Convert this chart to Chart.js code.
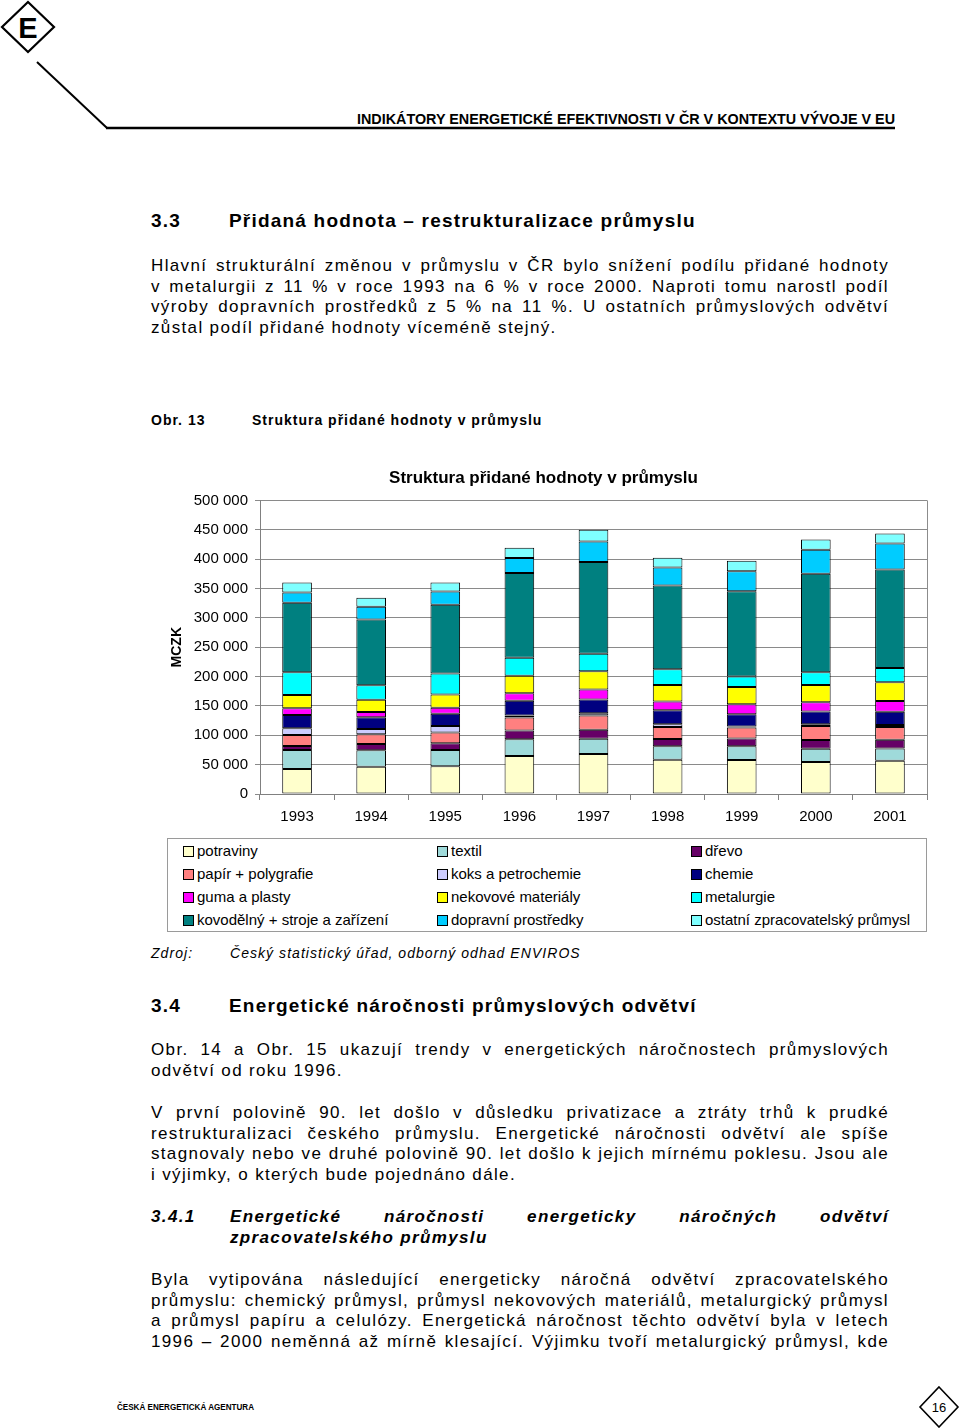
<!DOCTYPE html>
<html>
<head>
<meta charset="utf-8">
<script src="https://cdn.jsdelivr.net/npm/chart.js@4.4.1/dist/chart.umd.min.js"></script>
<style>
  html, body { margin: 0; padding: 0; background: #fff; }
  body { width: 960px; height: 1428px; position: relative; overflow: hidden; font-family: "Liberation Sans", Arial, sans-serif; color: #000; }
  .abs { position: absolute; }
  .ln { position: absolute; left: 151px; width: 738px; height: 21px; line-height: 21px; font-size: 17px; letter-spacing: 0.4px; text-align: justify; text-align-last: justify; }
  .ln.last { text-align-last: left; }
  .h2 { position: absolute; font-size: 19px; font-weight: bold; letter-spacing: 1.2px; line-height: 24px; height: 24px; white-space: nowrap; }
  .cap { position: absolute; font-size: 14px; font-weight: bold; letter-spacing: 1px; line-height: 18px; white-space: nowrap; }
  .src { position: absolute; font-size: 14px; font-style: italic; letter-spacing: 1.05px; line-height: 18px; white-space: nowrap; }
  #chartBox { position: absolute; left: 160px; top: 456px; width: 775px; height: 378px; }
  #legend { position: absolute; left: 167px; top: 838px; width: 758px; height: 92px; border: 1px solid #9a9a9a; }
  .li { position: absolute; font-size: 15px; line-height: 18px; white-space: nowrap; }
  .sw { position: absolute; width: 9px; height: 9px; border: 1px solid #000; }
</style>
</head>
<body>

<svg class="abs" style="left:0;top:0" width="960" height="140">
  <polygon points="28,2 54,27 28,52 2,27" fill="#fff" stroke="#000" stroke-width="2.2"/>
  <text x="28" y="38" text-anchor="middle" font-family="Liberation Sans" font-weight="bold" font-size="29">E</text>
  <line x1="37" y1="62" x2="107" y2="128" stroke="#000" stroke-width="2"/>
  <line x1="106" y1="128" x2="895" y2="128" stroke="#000" stroke-width="2.5"/>
  <text x="357" y="124" font-family="Liberation Sans" font-weight="bold" font-size="14" textLength="538" lengthAdjust="spacingAndGlyphs">INDIKÁTORY ENERGETICKÉ EFEKTIVNOSTI V ČR V KONTEXTU VÝVOJE V EU</text>
</svg>

<div class="h2" style="left:151px;top:209px">3.3</div>
<div class="h2" style="left:229px;top:209px">Přidaná hodnota – restrukturalizace průmyslu</div>

<div class="ln" style="top:255px">Hlavní strukturální změnou v průmyslu v ČR bylo snížení podílu přidané hodnoty</div>
<div class="ln" style="top:276px">v metalurgii z 11 % v roce 1993 na 6 % v roce 2000. Naproti tomu narostl podíl</div>
<div class="ln" style="top:296px">výroby dopravních prostředků z 5 % na 11 %. U ostatních průmyslových odvětví</div>
<div class="ln last" style="top:317px">zůstal podíl přidané hodnoty víceméně stejný.</div>

<div class="cap" style="left:151px;top:411px">Obr. 13</div>
<div class="cap" style="left:252px;top:411px">Struktura přidané hodnoty v průmyslu</div>

<div id="chartBox"><canvas id="myChart"></canvas></div>
<div id="legend"></div>

<div class="src" style="left:151px;top:944px">Zdroj:</div>
<div class="src" style="left:230px;top:944px">Český statistický úřad, odborný odhad ENVIROS</div>

<div class="h2" style="left:151px;top:994px">3.4</div>
<div class="h2" style="left:229px;top:994px">Energetické náročnosti průmyslových odvětví</div>

<div class="ln" style="top:1039px">Obr. 14 a Obr. 15 ukazují trendy v energetických náročnostech průmyslových</div>
<div class="ln last" style="top:1060px">odvětví od roku 1996.</div>

<div class="ln" style="top:1102px">V první polovině 90. let došlo v důsledku privatizace a ztráty trhů k prudké</div>
<div class="ln" style="top:1123px">restrukturalizaci českého průmyslu. Energetické náročnosti odvětví ale spíše</div>
<div class="ln" style="top:1143px">stagnovaly nebo ve druhé polovině 90. let došlo k jejich mírnému poklesu. Jsou ale</div>
<div class="ln last" style="top:1164px">i výjimky, o kterých bude pojednáno dále.</div>

<div class="ln last" style="top:1206px;left:151px;width:70px;font-weight:bold;font-style:italic">3.4.1</div>
<div class="ln" style="top:1206px;left:230px;width:659px;font-weight:bold;font-style:italic">Energetické náročnosti energeticky náročných odvětví</div>
<div class="ln last" style="top:1227px;left:230px;width:659px;font-weight:bold;font-style:italic">zpracovatelského průmyslu</div>

<div class="ln" style="top:1269px">Byla vytipována následující energeticky náročná odvětví zpracovatelského</div>
<div class="ln" style="top:1290px">průmyslu: chemický průmysl, průmysl nekovových materiálů, metalurgický průmysl</div>
<div class="ln" style="top:1310px">a průmysl papíru a celulózy. Energetická náročnost těchto odvětví byla v letech</div>
<div class="ln" style="top:1331px">1996 – 2000 neměnná až mírně klesající. Výjimku tvoří metalurgický průmysl, kde</div>

<svg class="abs" style="left:0;top:1380px" width="960" height="48">
  <text x="117" y="30" font-family="Liberation Sans" font-weight="bold" font-size="9" textLength="137" lengthAdjust="spacingAndGlyphs">ČESKÁ ENERGETICKÁ AGENTURA</text>
  <polygon points="939,7 958,27 939,47 920,27" fill="#fff" stroke="#000" stroke-width="1.6"/>
  <text x="939" y="32" text-anchor="middle" font-family="Liberation Sans" font-size="13">16</text>
</svg>

<script>
// roky
const years = ['1993', '1994', '1995', '1996', '1997', '1998', '1999', '2000', '2001'];

// přidaná hodnota po odvětvích (MCZK)
const potraviny  = [42600, 46600, 47200, 64800, 68200, 58500, 58000, 54500, 56800];
const textil     = [32400, 27800, 27800, 28400, 26100, 22700, 23300, 22700, 20500];
const drevo      = [6800, 10800, 11400, 14800, 15300, 12500, 13100, 14800, 15200];
const papir      = [18800, 16500, 18200, 22200, 23900, 20500, 18700, 23900, 21600];
const koks       = [11300, 9100, 11400, 3400, 4000, 4500, 1700, 2800, 3400];
const chemie     = [22800, 19900, 20500, 25000, 23400, 23900, 21000, 21600, 22700];
const guma       = [11300, 9100, 10200, 13100, 17000, 14800, 17000, 15900, 18200];
const nekovove   = [22800, 20500, 22700, 29500, 31300, 28400, 29500, 29500, 31800];
const metalurgie = [38600, 25000, 35800, 30700, 29500, 26700, 17600, 21600, 24400];
const kovodelny  = [118200, 111900, 117000, 144300, 156300, 142600, 145500, 167600, 167600];
const dopravni   = [17600, 21600, 22700, 25600, 35200, 30700, 34100, 40900, 44300];
const ostatni    = [17000, 15300, 15300, 17600, 19900, 16500, 17600, 17600, 17000];

const labels = [
  'potraviny', 'textil', 'dřevo',
  'papír + polygrafie', 'koks a petrochemie', 'chemie',
  'guma a plasty', 'nekovové materiály', 'metalurgie',
  'kovodělný + stroje a zařízení', 'dopravní prostředky', 'ostatní zpracovatelský průmysl'
];
const series = [potraviny, textil, drevo, papir, koks, chemie, guma, nekovove, metalurgie, kovodelny, dopravni, ostatni];
const colors = [
  '#FFFFCC', '#9FDADA', '#660066',
  '#FF8080', '#CCCCFF', '#000080',
  '#FF00FF', '#FFFF00', '#00FFFF',
  '#008080', '#00CCFF', '#7FFFFF'
];

// prostrkání řádků textu (širší písmo jako v originále)
document.querySelectorAll('.ln').forEach(el => {
  const isLast = el.classList.contains('last');
  const span = document.createElement('span');
  span.style.whiteSpace = 'nowrap';
  span.textContent = el.textContent;
  el.textContent = '';
  el.appendChild(span);
  el.style.textAlignLast = 'left';
  const w = span.getBoundingClientRect().width;
  const n = span.textContent.length;
  let extra = 0.95;
  if (!isLast) {
    extra = Math.max(0, Math.min(0.95, (el.clientWidth - w - 6) / n));
  }
  el.style.letterSpacing = (0.4 + extra) + 'px';
  span.style.whiteSpace = 'normal';
  el.style.textAlignLast = isLast ? 'left' : 'justify';
});

Chart.defaults.font.family = '"Liberation Sans", Arial, sans-serif';
Chart.defaults.color = '#000';

// pravý okraj oblasti grafu
const plotBorder = {
  id: 'plotBorder',
  afterDraw(chart) {
    const a = chart.chartArea;
    const ctx = chart.ctx;
    ctx.save();
    ctx.strokeStyle = '#8c8c8c';
    ctx.lineWidth = 1;
    ctx.beginPath();
    ctx.moveTo(Math.round(a.right) + 0.5, a.top);
    ctx.lineTo(Math.round(a.right) + 0.5, a.bottom);
    ctx.stroke();
    ctx.restore();
  }
};

new Chart(document.getElementById('myChart'), {
  type: 'bar',
  data: {
    labels: years,
    datasets: series.map((d, i) => ({
      label: labels[i],
      data: d,
      backgroundColor: colors[i],
      borderColor: '#000',
      borderWidth: 1,
      borderSkipped: false,
      barPercentage: 0.4,
      categoryPercentage: 1.0
    }))
  },
  options: {
    responsive: true,
    maintainAspectRatio: false,
    animation: false,
    layout: { padding: { left: 0, right: 8, top: 0, bottom: 0 } },
    plugins: {
      legend: { display: false },
      tooltip: { enabled: false },
      title: {
        display: true,
        text: 'Struktura přidané hodnoty v průmyslu',
        font: { size: 17, weight: 'bold' },
        padding: { top: 12, bottom: 12 }
      }
    },
    scales: {
      x: {
        stacked: true,
        grid: { drawOnChartArea: false, drawTicks: true, tickLength: 6, color: '#808080', offset: true },
        border: { color: '#808080' },
        ticks: { font: { size: 15 }, padding: 8, maxRotation: 0 },
        afterFit(scale) { scale.height = 40; }
      },
      y: {
        stacked: true,
        min: 0,
        max: 500000,
        grid: { color: '#8a8a8a', tickLength: 5 },
        border: { color: '#808080' },
        ticks: {
          stepSize: 50000,
          font: { size: 15 },
          padding: 7,
          callback: v => v.toString().replace(/\B(?=(\d{3})+(?!\d))/g, ' ')
        },
        title: {
          display: true,
          text: 'MCZK',
          font: { size: 14, weight: 'bold' },
          padding: { top: 9, bottom: 0 }
        },
        afterFit(scale) { scale.width = 100; }
      }
    }
  },
  plugins: [plotBorder]
});

// legenda ve třech sloupcích
const legend = document.getElementById('legend');
labels.forEach((name, i) => {
  const col = i % 3, row = Math.floor(i / 3);
  const x = 15 + col * 254, y = 3 + row * 23;
  const sw = document.createElement('div');
  sw.className = 'sw';
  sw.style.left = x + 'px';
  sw.style.top = (y + 4) + 'px';
  sw.style.background = colors[i];
  legend.appendChild(sw);
  const t = document.createElement('div');
  t.className = 'li';
  t.style.left = (x + 14) + 'px';
  t.style.top = y + 'px';
  t.textContent = name;
  legend.appendChild(t);
});
</script>
</body>
</html>
